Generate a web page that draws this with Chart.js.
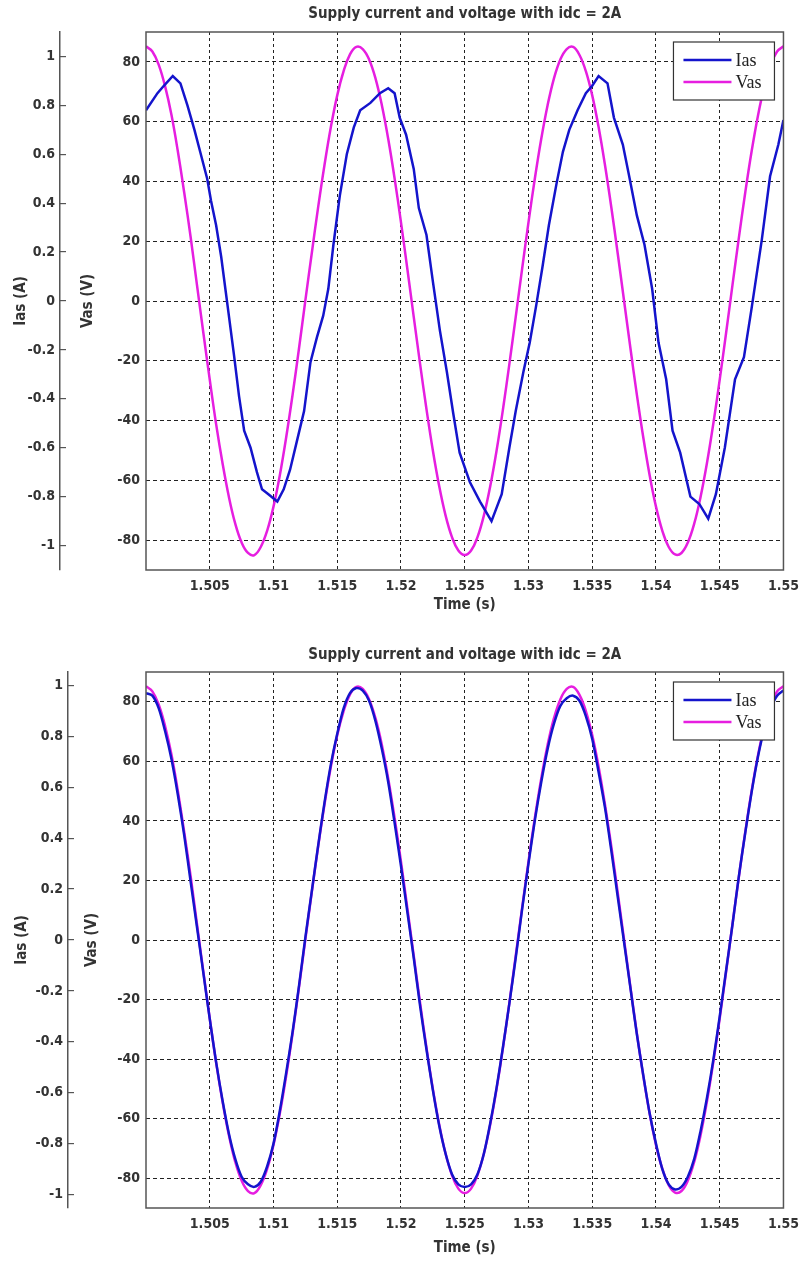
<!DOCTYPE html>
<html>
<head>
<meta charset="utf-8">
<script src="https://cdn.jsdelivr.net/npm/chart.js@4.4.1/dist/chart.umd.min.js"></script>
<style>
  html, body { margin: 0; padding: 0; background: #fff; }
  #wrap { position: relative; width: 807px; height: 1262px; }
  .box { position: absolute; left: 0; width: 807px; }
</style>
</head>
<body>
<div id="wrap">
  <div class="box" style="top:0;height:620px"><canvas id="chartTop"></canvas></div>
  <div class="box" style="top:620px;height:642px"><canvas id="chartBottom"></canvas></div>
</div>
<script>
// time origin (s), samples are given in ms after it
const T0 = 1.5;

const xTicks = [1.505, 1.51, 1.515, 1.52, 1.525, 1.53, 1.535, 1.54, 1.545, 1.55];
const xTickLabels = ['1.505', '1.51', '1.515', '1.52', '1.525', '1.53', '1.535', '1.54', '1.545', '1.55'];
const vasTicks = [-80, -60, -40, -20, 0, 20, 40, 60, 80];
const iasTicks = [-1, -0.8, -0.6, -0.4, -0.2, 0, 0.2, 0.4, 0.6, 0.8, 1];
const iasTickLabels = ['-1', '-0.8', '-0.6', '-0.4', '-0.2', '0', '0.2', '0.4', '0.6', '0.8', '1'];

// supply voltage, read every 0.5 ms
const tVolt = [0, 0.5, 1, 1.5, 2, 2.5, 3, 3.5, 4, 4.5, 5, 5.5, 6, 6.5, 7, 7.5, 8, 8.5, 9, 9.5,
  10, 10.5, 11, 11.5, 12, 12.5, 13, 13.5, 14, 14.5, 15, 15.5, 16, 16.5, 17, 17.5, 18, 18.5, 19, 19.5,
  20, 20.5, 21, 21.5, 22, 22.5, 23, 23.5, 24, 24.5, 25, 25.5, 26, 26.5, 27, 27.5, 28, 28.5, 29, 29.5,
  30, 30.5, 31, 31.5, 32, 32.5, 33, 33.5, 34, 34.5, 35, 35.5, 36, 36.5, 37, 37.5, 38, 38.5, 39, 39.5,
  40, 40.5, 41, 41.5, 42, 42.5, 43, 43.5, 44, 44.5, 45, 45.5, 46, 46.5, 47, 47.5, 48, 48.5, 49, 49.5, 50];
const vasTop = [85.2, 83.5, 79.0, 71.8, 62.2, 50.0, 36.2, 21.4, 5.3, -10.7, -26.3, -41.2, -54.2, -65.5, -74.5, -80.8, -84.3, -85.0, -82.3, -76.9,
  -68.8, -58.2, -45.5, -31.3, -15.9, 0.2, 15.9, 31.3, 45.5, 58.2, 68.8, 76.9, 82.5, 85.0, 84.3, 80.8, 74.5, 65.5, 54.2, 41.0,
  26.3, 10.7, -5.3, -21.1, -36.2, -50.0, -62.0, -71.8, -79.0, -83.5, -85.0, -83.5, -79.0, -71.8, -62.0, -50.0, -36.2, -21.1, -5.3, 10.7,
  26.3, 41.0, 54.2, 65.5, 74.5, 80.8, 84.3, 85.0, 82.3, 76.9, 68.8, 58.2, 45.5, 31.3, 15.9, 0, -15.9, -31.3, -45.5, -58.2,
  -68.8, -76.9, -82.3, -84.8, -84.3, -80.8, -74.5, -65.5, -54.2, -41.0, -26.3, -10.7, 5.3, 21.1, 36.2, 50.0, 62.0, 71.8, 79.0, 83.5, 85.2];
const vasBottom = vasTop;

// current, top plot (lagging, distorted)
const tIasTop = [0, 0.9, 1.4, 2.1, 2.7, 3.25, 3.8, 4.3, 4.8, 5.1,
  5.5, 5.9, 6.25, 6.5, 6.9, 7.3, 7.7, 8.2, 8.7, 9.1,
  9.6, 10.3, 10.8, 11.3, 11.85, 12.4, 12.9, 13.4, 13.9, 14.3,
  14.7, 15.2, 15.75, 16.3, 16.8, 17.6, 18.35, 19.0, 19.5, 19.9,
  20.4, 21.0, 21.4, 22.0, 22.5, 23.05, 23.6, 24.1, 24.6, 25.4,
  26.2, 27.1, 27.9, 28.5, 29.0, 29.6, 30.1, 30.6, 31.1, 31.6,
  32.2, 32.7, 33.2, 33.85, 34.5, 35.0, 35.5, 36.2, 36.7, 37.4,
  37.9, 38.5, 39.1, 39.7, 40.2, 40.8, 41.3, 41.9, 42.7, 43.4,
  44.1, 44.7, 45.4, 46.2, 46.9, 47.5, 48.3, 48.95, 49.6, 50.0];
const iasTop = [0.78, 0.85, 0.88, 0.92, 0.89, 0.80, 0.70, 0.60, 0.50, 0.41,
  0.31, 0.18, 0.04, -0.06, -0.22, -0.39, -0.53, -0.60, -0.70, -0.77,
  -0.79, -0.82, -0.77, -0.69, -0.57, -0.45, -0.25, -0.15, -0.06, 0.05,
  0.23, 0.43, 0.60, 0.71, 0.78, 0.81, 0.85, 0.87, 0.85, 0.75,
  0.68, 0.54, 0.38, 0.27, 0.08, -0.12, -0.29, -0.46, -0.62, -0.74,
  -0.82, -0.90, -0.79, -0.60, -0.45, -0.29, -0.17, -0.02, 0.14, 0.31,
  0.48, 0.61, 0.70, 0.78, 0.85, 0.88, 0.92, 0.89, 0.75, 0.64,
  0.51, 0.35, 0.23, 0.05, -0.17, -0.32, -0.53, -0.62, -0.80, -0.83,
  -0.89, -0.79, -0.60, -0.32, -0.23, -0.03, 0.25, 0.51, 0.64, 0.74];

// current, bottom plot (in phase), read every 0.5 ms
const iasBottom = [0.97, 0.96, 0.91, 0.82, 0.71, 0.57, 0.41, 0.23, 0.05, -0.13,
  -0.31, -0.48, -0.63, -0.76, -0.86, -0.93, -0.96, -0.97, -0.95, -0.89,
  -0.80, -0.67, -0.52, -0.36, -0.18, 0.01, 0.19, 0.37, 0.54, 0.69,
  0.81, 0.91, 0.97, 0.99, 0.98, 0.94, 0.86, 0.75, 0.62, 0.46,
  0.29, 0.11, -0.07, -0.26, -0.43, -0.59, -0.73, -0.84, -0.92, -0.96, -0.97,
  -0.96, -0.92, -0.84, -0.72, -0.58, -0.42, -0.25, -0.07, 0.12, 0.30,
  0.47, 0.62, 0.75, 0.85, 0.92, 0.95, 0.96, 0.94, 0.88, 0.79,
  0.66, 0.52, 0.35, 0.17, -0.01, -0.19, -0.37, -0.53, -0.68, -0.80,
  -0.90, -0.96, -0.98, -0.97, -0.93, -0.86, -0.75, -0.62, -0.47, -0.30,
  -0.12, 0.06, 0.25, 0.42, 0.58, 0.72, 0.83, 0.91, 0.96, 0.98];

const BLUE = '#1414cc';
const MAGENTA = '#e61ee0';
const FAMILY = "'DejaVu Sans Condensed', 'Liberation Sans Narrow', Arial";
const TICK_FONT = { family: FAMILY, size: 14, weight: 'bold' };
const AXIS_TITLE_FONT = { family: FAMILY, size: 15, weight: 'bold' };
const TITLE_FONT = "bold 15px " + FAMILY;

function toPoints(times, values) {
    return times.map((ms, i) => ({ x: T0 + ms / 1000, y: values[i] }));
}

// title centred on the plot area + frame + boxed legend
const decorPlugin = {
    id: 'decor',
    afterDraw(chart, args, opts) {
        const ctx = chart.ctx;
        const a = chart.chartArea;
        ctx.save();

        ctx.strokeStyle = '#555';
        ctx.lineWidth = 1.5;
        ctx.setLineDash([]);
        ctx.strokeRect(a.left, a.top, a.right - a.left, a.bottom - a.top);

        ctx.fillStyle = '#333';
        ctx.font = TITLE_FONT;
        ctx.textAlign = 'center';
        ctx.textBaseline = 'middle';
        ctx.fillText(opts.title, (a.left + a.right) / 2, opts.titleY);

        const bw = 101, bh = 58;
        const bx = a.right - 9 - bw, by = a.top + 10;
        ctx.fillStyle = '#fff';
        ctx.fillRect(bx, by, bw, bh);
        ctx.strokeStyle = '#333';
        ctx.lineWidth = 1.2;
        ctx.strokeRect(bx, by, bw, bh);
        ctx.font = "18px 'Liberation Serif', 'DejaVu Serif', serif";
        ctx.textAlign = 'left';
        chart.data.datasets.forEach((ds, i) => {
            const ly = by + 18 + i * 22;
            ctx.strokeStyle = ds.borderColor;
            ctx.lineWidth = 2.5;
            ctx.beginPath();
            ctx.moveTo(bx + 10, ly);
            ctx.lineTo(bx + 58, ly);
            ctx.stroke();
            ctx.fillStyle = '#222';
            ctx.fillText(ds.label, bx + 62, ly + 1);
        });
        ctx.restore();
    }
};

function makeChart(canvasId, opt) {
    const ctx = document.getElementById(canvasId).getContext('2d');
    return new Chart(ctx, {
        type: 'line',
        data: {
            datasets: [
                {
                    label: 'Ias',
                    data: toPoints(opt.tIas, opt.ias),
                    yAxisID: 'yI',
                    borderColor: BLUE,
                    borderWidth: 2.5,
                    pointRadius: 0,
                    tension: opt.iasTension
                },
                {
                    label: 'Vas',
                    data: toPoints(tVolt, opt.vas),
                    yAxisID: 'yV',
                    borderColor: MAGENTA,
                    borderWidth: 2.5,
                    pointRadius: 0,
                    tension: 0.4
                }
            ]
        },
        options: {
            responsive: true,
            maintainAspectRatio: false,
            animation: false,
            events: [],
            layout: { padding: { top: opt.plotTop, right: 20, left: 0, bottom: 0 } },
            plugins: {
                legend: { display: false },
                title: { display: false },
                tooltip: { enabled: false },
                decor: { title: opt.title, titleY: opt.titleY }
            },
            scales: {
                x: {
                    type: 'linear',
                    min: 1.5,
                    max: 1.55,
                    afterBuildTicks: (axis) => { axis.ticks = xTicks.map(v => ({ value: v })); },
                    afterFit: (axis) => { axis.height = opt.xHeight; },
                    ticks: {
                        color: '#333',
                        font: TICK_FONT,
                        padding: opt.xTickPad,
                        maxRotation: 0,
                        autoSkip: false,
                        callback: (v, i) => xTickLabels[i]
                    },
                    grid: {
                        color: '#222',
                        lineWidth: 1,
                        drawTicks: false,
                        tickLength: 0
                    },
                    border: { display: false, dash: [3, 3] },
                    title: {
                        display: true,
                        text: 'Time (s)',
                        color: '#333',
                        font: AXIS_TITLE_FONT,
                        padding: { top: 0, bottom: opt.xTitlePad }
                    }
                },
                yV: {
                    type: 'linear',
                    position: 'left',
                    weight: 0,
                    min: -90,
                    max: 90,
                    afterBuildTicks: (axis) => { axis.ticks = vasTicks.map(v => ({ value: v })); },
                    afterFit: (axis) => { axis.width = opt.vWidth; },
                    ticks: { color: '#333', font: TICK_FONT, padding: 6 },
                    grid: { color: '#222', lineWidth: 1, drawTicks: false, tickLength: 0 },
                    border: { display: false, dash: [4, 3] },
                    title: {
                        display: true,
                        text: 'Vas (V)',
                        color: '#333',
                        font: AXIS_TITLE_FONT,
                        padding: { top: opt.vTitlePad, bottom: 0 }
                    }
                },
                yI: {
                    type: 'linear',
                    position: 'left',
                    weight: 1,
                    min: -opt.iMax,
                    max: opt.iMax,
                    afterBuildTicks: (axis) => { axis.ticks = iasTicks.map(v => ({ value: v })); },
                    afterFit: (axis) => { axis.width = opt.iWidth; },
                    ticks: {
                        color: '#333',
                        font: TICK_FONT,
                        padding: 11,
                        callback: (v, i) => iasTickLabels[i]
                    },
                    grid: { drawOnChartArea: false, color: '#555', lineWidth: 1.2, tickLength: -6 },
                    border: { display: true, color: '#555', width: 1.5 },
                    title: {
                        display: true,
                        text: 'Ias (A)',
                        color: '#333',
                        font: AXIS_TITLE_FONT,
                        padding: { top: opt.iTitlePad, bottom: 0 }
                    }
                }
            }
        },
        plugins: [decorPlugin]
    });
}

makeChart('chartTop', {
    title: 'Supply current and voltage with idc = 2A',
    titleY: 14,
    plotTop: 32,
    xHeight: 50,
    xTickPad: 8,
    xTitlePad: 6,
    iWidth: 60,
    vWidth: 86,
    iTitlePad: 12,
    vTitlePad: 19,
    iMax: 1.1,
    tIas: tIasTop,
    ias: iasTop,
    iasTension: 0,
    vas: vasTop
});

makeChart('chartBottom', {
    title: 'Supply current and voltage with idc = 2A',
    titleY: 35,
    plotTop: 52,
    xHeight: 54,
    xTickPad: 8,
    xTitlePad: 5,
    iWidth: 68,
    vWidth: 78,
    iTitlePad: 13,
    vTitlePad: 15,
    iMax: 1.053,
    tIas: tVolt,
    ias: iasBottom,
    iasTension: 0.3,
    vas: vasBottom
});
</script>
</body>
</html>
